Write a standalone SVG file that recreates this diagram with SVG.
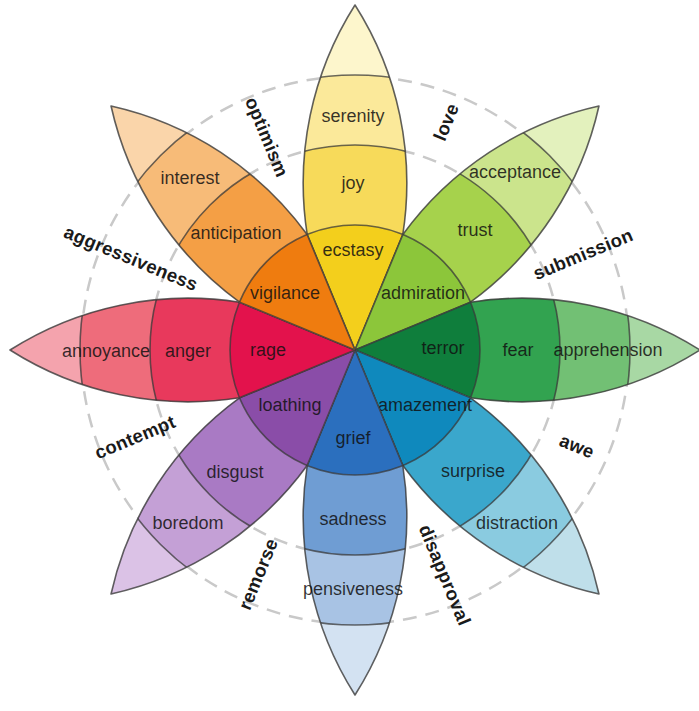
<svg xmlns="http://www.w3.org/2000/svg" xmlns:xlink="http://www.w3.org/1999/xlink" width="699" height="711" viewBox="0 0 699 711">
<style>
.bg{fill:#ffffff}
.dash{fill:none;stroke:#c9c9c9;stroke-width:2.5;stroke-dasharray:14 9}
.band{stroke:#3a3a3a;stroke-opacity:0.75;stroke-width:1.6}
.tipband{stroke:none}
.outline{fill:none;stroke:#3a3a3a;stroke-opacity:0.8;stroke-width:1.6;stroke-linejoin:round}
.lbl{font-family:"Liberation Sans",Arial,sans-serif;font-size:18px;fill:#111111;fill-opacity:0.85;text-anchor:middle;dominant-baseline:central}
.dyad{font-family:"Liberation Sans",Arial,sans-serif;font-size:18.5px;font-weight:bold;fill:#1a1a1a;text-anchor:middle;dominant-baseline:central;letter-spacing:0.3px}
</style>
<defs>
<path id="petalShape" d="M -47.8,-115.5 A 332 332 0 0 1 0,-345 A 332 332 0 0 1 47.8,-115.5 L 0,0 Z"/>
<clipPath id="petalClip"><use xlink:href="#petalShape"/></clipPath>
</defs>
<rect class="bg" x="0" y="0" width="699" height="711"/>
<g id="guides">
<circle class="dash" cx="355" cy="350" r="205"/>
<circle class="dash" cx="355" cy="350" r="274"/>
</g>

<g id="petal-joy">
<g transform="translate(355,350) rotate(0)">
<g clip-path="url(#petalClip)">
<circle class="tipband" r="345" fill="#fdf6cc"/>
<circle class="band" r="275" fill="#fbe99a"/>
<circle class="band" r="205" fill="#f7da5a"/>
<circle class="band" r="125" fill="#f3cf1c"/>
</g>
<use xlink:href="#petalShape" class="outline"/>
</g>
<text class="lbl" x="353" y="116">serenity</text>
<text class="lbl" x="353" y="183">joy</text>
<text class="lbl" x="353" y="250">ecstasy</text>
</g>

<g id="petal-trust">
<g transform="translate(355,350) rotate(45)">
<g clip-path="url(#petalClip)">
<circle class="tipband" r="345" fill="#e3f1bd"/>
<circle class="band" r="275" fill="#cbe48c"/>
<circle class="band" r="205" fill="#a6d24c"/>
<circle class="band" r="125" fill="#8cc63a"/>
</g>
<use xlink:href="#petalShape" class="outline"/>
</g>
<text class="lbl" x="515" y="172">acceptance</text>
<text class="lbl" x="475" y="230">trust</text>
<text class="lbl" x="423" y="293">admiration</text>
</g>

<g id="petal-fear">
<g transform="translate(355,350) rotate(90)">
<g clip-path="url(#petalClip)">
<circle class="tipband" r="345" fill="#a8d8a4"/>
<circle class="band" r="275" fill="#72c074"/>
<circle class="band" r="205" fill="#32a350"/>
<circle class="band" r="125" fill="#0f7e3c"/>
</g>
<use xlink:href="#petalShape" class="outline"/>
</g>
<text class="lbl" x="518" y="350">fear</text>
<text class="lbl" x="608" y="350">apprehension</text>
<text class="lbl" x="443" y="348">terror</text>
</g>

<g id="petal-surprise">
<g transform="translate(355,350) rotate(135)">
<g clip-path="url(#petalClip)">
<circle class="tipband" r="345" fill="#bfdfea"/>
<circle class="band" r="275" fill="#8acbe0"/>
<circle class="band" r="205" fill="#3aa7cc"/>
<circle class="band" r="125" fill="#0f89bd"/>
</g>
<use xlink:href="#petalShape" class="outline"/>
</g>
<text class="lbl" x="473" y="471">surprise</text>
<text class="lbl" x="517" y="523">distraction</text>
<text class="lbl" x="425" y="405">amazement</text>
</g>

<g id="petal-sadness">
<g transform="translate(355,350) rotate(180)">
<g clip-path="url(#petalClip)">
<circle class="tipband" r="345" fill="#d3e2f2"/>
<circle class="band" r="275" fill="#a8c3e4"/>
<circle class="band" r="205" fill="#6f9dd3"/>
<circle class="band" r="125" fill="#2b6fbe"/>
</g>
<use xlink:href="#petalShape" class="outline"/>
</g>
<text class="lbl" x="353" y="519">sadness</text>
<text class="lbl" x="353" y="589">pensiveness</text>
<text class="lbl" x="353" y="438">grief</text>
</g>

<g id="petal-disgust">
<g transform="translate(355,350) rotate(225)">
<g clip-path="url(#petalClip)">
<circle class="tipband" r="345" fill="#dbc2e6"/>
<circle class="band" r="275" fill="#c4a0d6"/>
<circle class="band" r="205" fill="#a97ac4"/>
<circle class="band" r="125" fill="#8a4da8"/>
</g>
<use xlink:href="#petalShape" class="outline"/>
</g>
<text class="lbl" x="235" y="472">disgust</text>
<text class="lbl" x="188" y="523">boredom</text>
<text class="lbl" x="290" y="405">loathing</text>
</g>

<g id="petal-anger">
<g transform="translate(355,350) rotate(270)">
<g clip-path="url(#petalClip)">
<circle class="tipband" r="345" fill="#f4a3ad"/>
<circle class="band" r="275" fill="#ee6c7b"/>
<circle class="band" r="205" fill="#e8395c"/>
<circle class="band" r="125" fill="#e3124c"/>
</g>
<use xlink:href="#petalShape" class="outline"/>
</g>
<text class="lbl" x="106" y="351">annoyance</text>
<text class="lbl" x="188" y="351">anger</text>
<text class="lbl" x="268" y="350">rage</text>
</g>

<g id="petal-anticipation">
<g transform="translate(355,350) rotate(315)">
<g clip-path="url(#petalClip)">
<circle class="tipband" r="345" fill="#fad5aa"/>
<circle class="band" r="275" fill="#f7bb78"/>
<circle class="band" r="205" fill="#f49f45"/>
<circle class="band" r="125" fill="#ef7c0f"/>
</g>
<use xlink:href="#petalShape" class="outline"/>
</g>
<text class="lbl" x="190" y="178">interest</text>
<text class="lbl" x="236" y="233">anticipation</text>
<text class="lbl" x="285" y="293">vigilance</text>
</g>

<g id="dyads">
<text class="dyad" transform="translate(267,137) rotate(67.5)">optimism</text>
<text class="dyad" transform="translate(446,122) rotate(-67.5)">love</text>
<text class="dyad" transform="translate(583,254) rotate(-22.5)">submission</text>
<text class="dyad" transform="translate(577,446) rotate(22.5)">awe</text>
<text class="dyad" transform="translate(445,575) rotate(67.5)">disapproval</text>
<text class="dyad" transform="translate(258,574) rotate(-67.5)">remorse</text>
<text class="dyad" transform="translate(135,437) rotate(-22.5)">contempt</text>
<text class="dyad" transform="translate(131,258) rotate(22.5)">aggressiveness</text>
</g>
</svg>
